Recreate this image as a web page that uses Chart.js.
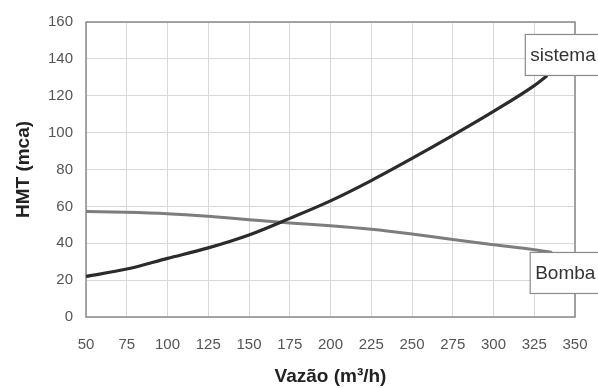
<!DOCTYPE html>
<html>
<head>
<meta charset="utf-8">
<script src="https://cdn.jsdelivr.net/npm/chart.js@4/dist/chart.umd.min.js"></script>
<style>
html,body{margin:0;padding:0;background:#fff;}
#wrap{width:598px;height:388px;position:relative;}
</style>
</head>
<body>
<div id="wrap"><canvas id="c" width="598" height="388"></canvas></div>
<script>
const sistemaX = [50, 75, 100, 125, 150, 175, 200, 225, 250, 275, 300, 325, 333];
const sistemaY = [22, 26, 31.8, 37.5, 44.5, 53.5, 63, 74, 86, 98.5, 111.5, 125.5, 131];
const bombaX = [50, 75, 100, 125, 150, 175, 200, 225, 250, 275, 300, 325, 336];
const bombaY = [57.2, 56.8, 56, 54.6, 52.8, 51, 49.5, 47.6, 45, 42, 39.2, 36.5, 35];
const seriesNames = ['sistema', 'Bomba'];
const xTitle = 'Vazão (m³/h)';
const yTitle = 'HMT (mca)';

const toPts = (xs, ys) => xs.map((x, i) => ({x: x, y: ys[i]}));

const labelPlugin = {
  id: 'labels',
  beforeDatasetsDraw(chart) {
    const ctx = chart.ctx, a = chart.chartArea;
    ctx.save();
    ctx.strokeStyle = '#8a8a8a';
    ctx.lineWidth = 1.5;
    ctx.strokeRect(a.left, a.top, a.right - a.left, a.bottom - a.top);
    ctx.restore();
  },
  afterDatasetsDraw(chart) {
    const ctx = chart.ctx;
    ctx.save();
    ctx.font = '19px "Liberation Sans", Arial, sans-serif';
    ctx.textBaseline = 'middle';
    chart.data.datasets.forEach((ds, i) => {
      const meta = chart.getDatasetMeta(i);
      const p = meta.data[meta.data.length - 1];
      const w = 95, h = 41;
      const left = p.x - 22;
      const top = i === 0 ? p.y - h : p.y;
      ctx.fillStyle = '#fff';
      ctx.fillRect(left, top, w, h);
      ctx.strokeStyle = '#8a8a8a';
      ctx.lineWidth = 1.2;
      ctx.strokeRect(left, top, w, h);
      ctx.fillStyle = '#333';
      ctx.fillText(ds.label, left + 5, top + h / 2 + 1);
    });
    ctx.restore();
  }
};

new Chart(document.getElementById('c'), {
  type: 'line',
  data: {
    datasets: [
      {label: seriesNames[0], data: toPts(sistemaX, sistemaY), borderColor: '#2b2b2b', borderWidth: 3.2, pointRadius: 0, cubicInterpolationMode: 'monotone', fill: false},
      {label: seriesNames[1], data: toPts(bombaX, bombaY), borderColor: '#7d7d7d', borderWidth: 3, pointRadius: 0, cubicInterpolationMode: 'monotone', fill: false}
    ]
  },
  options: {
    responsive: false,
    animation: false,
    events: [],
    layout: {padding: {top: 14, right: 23, left: 0, bottom: 0}},
    plugins: {legend: {display: false}, tooltip: {enabled: false}},
    scales: {
      x: {
        type: 'linear', min: 50, max: 350,
        ticks: {stepSize: 25, padding: 19, color: '#555', font: {family: '"Liberation Sans", Arial, sans-serif', size: 15}, maxRotation: 0},
        grid: {color: '#d9d9d9', lineWidth: 1, drawTicks: false},
        border: {display: false},
        title: {display: true, text: xTitle, color: '#222', font: {family: '"Liberation Sans", Arial, sans-serif', size: 19, weight: 'bold'}, padding: {top: 0, bottom: 0}},
        afterFit(s) { s.height = 71; s.paddingRight = 0; s.paddingLeft = 0; }
      },
      y: {
        min: 0, max: 160,
        ticks: {stepSize: 20, padding: 13, color: '#555', font: {family: '"Liberation Sans", Arial, sans-serif', size: 15}},
        grid: {color: '#d9d9d9', lineWidth: 1, drawTicks: false},
        border: {display: false},
        title: {display: true, text: yTitle, color: '#222', font: {family: '"Liberation Sans", Arial, sans-serif', size: 19, weight: 'bold'}, padding: {top: 12, bottom: 0}},
        afterFit(s) { s.width = 86; }
      }
    }
  },
  plugins: [labelPlugin]
});
</script>
</body>
</html>
